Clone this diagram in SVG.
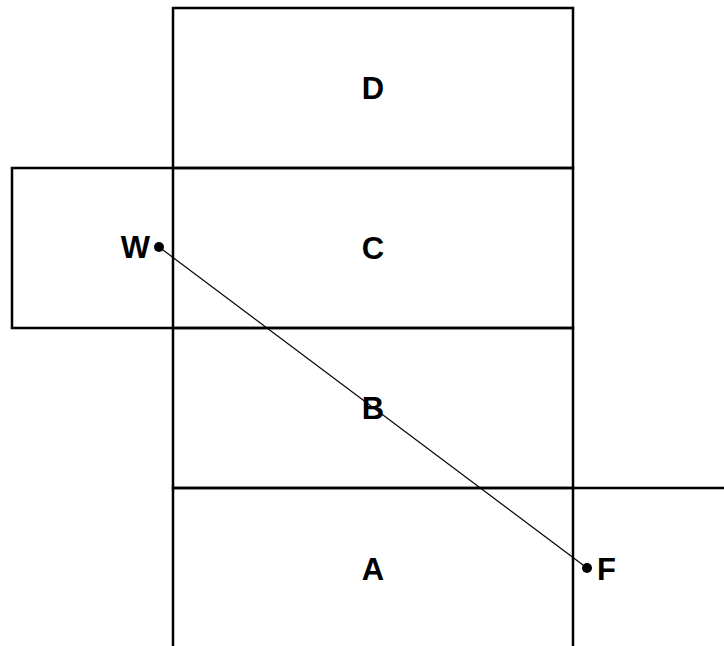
<svg xmlns="http://www.w3.org/2000/svg" width="724" height="646" viewBox="0 0 724 646">
<style>
.box{fill:none;stroke:#000;stroke-width:2.5}
.lbl{font-family:"Liberation Sans",Arial,sans-serif;font-weight:bold;font-size:31px;fill:#000}
.mid{text-anchor:middle}
.conn{stroke:#000;stroke-width:1.2;fill:none}
</style>
<rect width="724" height="646" fill="#fff"/>
<g id="D"><rect class="box" x="173" y="8" width="400" height="160"/><text class="lbl mid" x="373" y="99">D</text></g>
<g id="C"><rect class="box" x="173" y="168" width="400" height="160"/><text class="lbl mid" x="373" y="259">C</text></g>
<g id="leftbox"><path class="box" d="M173,168 H12 V328 H173"/></g>
<g id="B"><rect class="box" x="173" y="328" width="400" height="160"/><text class="lbl mid" x="373" y="419">B</text></g>
<g id="A"><path class="box" d="M173,646 V488 H573 V646"/><text class="lbl mid" x="373" y="580">A</text></g>
<g id="rightline"><path class="box" d="M573,488 H724"/></g>
<g id="connectors"><line class="conn" x1="159" y1="247" x2="587" y2="568"/></g>
<g id="W"><circle cx="159" cy="247" r="5"/><text class="lbl" x="150" y="258" text-anchor="end">W</text></g>
<g id="F"><circle cx="587" cy="568" r="5"/><text class="lbl" x="597" y="580">F</text></g>
</svg>
